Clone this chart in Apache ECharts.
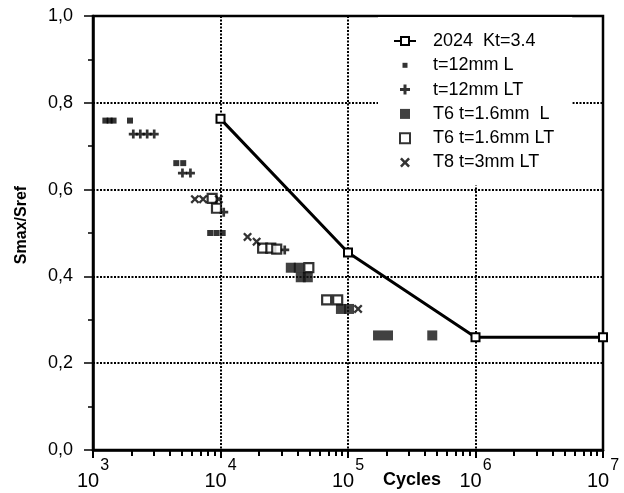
<!DOCTYPE html>
<html>
<head>
<meta charset="utf-8">
<script src="https://cdn.jsdelivr.net/npm/echarts@6/dist/echarts.min.js"></script>
<style>html,body{margin:0;background:#fff}#chart{width:624px;height:493px}</style>
</head>
<body>
<div id="chart"></div>
<script>
// S-N data (cycles, Smax/Sref)
var kt34N = [1e4, 1e5, 1e6, 1e7];
var kt34S = [0.763, 0.455, 0.26, 0.26];

var t12LN = [1250, 1350, 1450, 1950, 4500, 5100, 8300, 9300, 10400];
var t12LS = [0.759, 0.759, 0.759, 0.759, 0.661, 0.661, 0.50, 0.50, 0.50];

var t12LTN = [2070, 2350, 2660, 3020, 5030, 5810, 10600, 31900];
var t12LTS = [0.728, 0.728, 0.728, 0.728, 0.638, 0.638, 0.548, 0.461];

var t6LN = [35600, 41100, 42600, 48400, 88000, 102000, 172000, 206000, 458000];
var t6LS = [0.42, 0.42, 0.398, 0.398, 0.325, 0.325, 0.264, 0.264, 0.264];

var t6LTN = [8600, 9300, 21400, 24800, 27600, 49300, 68000, 83000];
var t6LTS = [0.58, 0.557, 0.465, 0.465, 0.463, 0.42, 0.346, 0.346];

var t8LTN = [6300, 7300, 9700, 16300, 19200, 120000];
var t8LTS = [0.578, 0.578, 0.578, 0.491, 0.48, 0.325];

var names = ['2024  Kt=3.4', 't=12mm L', 't=12mm LT', 'T6 t=1.6mm  L', 'T6 t=1.6mm LT', 'T8 t=3mm LT'];
var decades = [1e3, 1e4, 1e5, 1e6, 1e7];
var minorMult = [2, 3, 4, 5, 6, 7, 8, 9];

function zip(a, b) {
    return a.map(function (v, i) { return [v, b[i]]; });
}

// minor ticks 2..9 in each decade, as exponents for the helper axis
var minorTicks = [];
decades.slice(0, -1).forEach(function (d) {
    minorMult.forEach(function (m) { minorTicks.push(Math.log10(d * m)); });
});

var SQ = 'path://M0,0h10v10h-10z';
var PLUS = 'path://M3.5,0h3v3.5h3.5v3h-3.5v3.5h-3v-3.5h-3.5v-3h3.5z';
var CROSS = 'path://M0,1.8L1.8,0L5,3.2L8.2,0L10,1.8L6.8,5L10,8.2L8.2,10L5,6.8L1.8,10L0,8.2L3.2,5Z';
var SQ_SMALL = 'path://M0,0M10,10M2.5,2.5h5v5h-5z';

var font = 'Liberation Sans, Arial, Helvetica, sans-serif';
var dotted = {color: '#000', width: 2, type: [2, 1.5]};

var option = {
    animation: false,
    backgroundColor: '#fff',
    grid: {
        left: 93, right: 21, top: 16, bottom: 43,
        outerBoundsMode: 'none',
        show: true, borderColor: '#000', borderWidth: 2.5
    },
    legend: {
        orient: 'vertical',
        left: 378,
        top: 17,
        backgroundColor: '#fff',
        padding: [15, 18, 14, 15],
        itemWidth: 22,
        itemHeight: 10,
        itemGap: 6.3,
        textStyle: {fontFamily: font, fontSize: 18, lineHeight: 18, color: '#000', padding: [0, 0, 0, 12]},
        data: [
            {name: names[0]},
            {name: names[1], icon: SQ_SMALL},
            {name: names[2], icon: PLUS},
            {name: names[3], icon: SQ},
            {name: names[4], icon: SQ},
            {name: names[5], icon: CROSS}
        ]
    },
    xAxis: [{
        type: 'log', logBase: 10, min: 1000, max: 1e7,
        axisLine: {lineStyle: {color: '#000', width: 2.5}},
        axisTick: {length: 8, lineStyle: {color: '#000', width: 2}},
        minorTick: {show: false},
        axisLabel: {
            margin: 8,
            formatter: function (v) {
                var e = Math.round(Math.log(v) / Math.LN10);
                return '{b|10}{s|' + e + '}';
            },
            rich: {
                b: {fontFamily: font, fontSize: 20, lineHeight: 46, color: '#000'},
                s: {fontFamily: font, fontSize: 16, lineHeight: 14, color: '#000', verticalAlign: 'top', padding: [0, 0, 0, 1]}
            }
        },
        splitLine: {show: true, lineStyle: dotted},
        name: 'Cycles',
        nameLocation: 'middle',
        nameGap: 21,
        nameMoveOverlap: false,
        nameTextStyle: {fontFamily: font, fontSize: 18, fontWeight: 'bold', color: '#000', padding: [0, 0, 0, 128]}
    }, {
        // helper axis carrying only the minor decade ticks
        type: 'value', min: 3, max: 7,
        position: 'bottom',
        axisLine: {show: true, lineStyle: {color: '#000', opacity: 0}},
        axisTick: {show: true, inside: false, length: 6, customValues: minorTicks, lineStyle: {color: '#000', width: 2, opacity: 1}},
        axisLabel: {show: false},
        splitLine: {show: false}
    }],
    yAxis: {
        type: 'value', min: 0, max: 1, interval: 0.2,
        axisLine: {show: true, lineStyle: {color: '#000', width: 2.5}},
        axisTick: {show: true, length: 9, lineStyle: {color: '#000', width: 1.5}},
        minorTick: {show: true, splitNumber: 2, length: 5, lineStyle: {color: '#000', width: 1.5}},
        axisLabel: {
            margin: 20, fontFamily: font, fontSize: 18, color: '#000',
            formatter: function (v) { return v.toFixed(1).replace('.', ','); }
        },
        splitLine: {show: true, lineStyle: dotted},
        name: 'Smax/Sref',
        nameLocation: 'middle',
        nameGap: 63,
        nameTextStyle: {fontFamily: font, fontSize: 16, fontWeight: 'bold', color: '#000', padding: [0, 0, 0, 16]}
    },
    series: [
        {
            name: names[1], type: 'scatter', symbol: SQ, symbolSize: 6,
            itemStyle: {color: '#000'}, data: zip(t12LN, t12LS)
        },
        {
            name: names[2], type: 'scatter', symbol: PLUS, symbolSize: 9,
            itemStyle: {color: '#000'}, data: zip(t12LTN, t12LTS)
        },
        {
            name: names[3], type: 'scatter', symbol: SQ, symbolSize: 10,
            itemStyle: {color: '#111'}, data: zip(t6LN, t6LS)
        },
        {
            name: names[4], type: 'scatter', symbol: SQ, symbolSize: 9,
            itemStyle: {color: '#fff', borderColor: '#000', borderWidth: 2.2}, data: zip(t6LTN, t6LTS)
        },
        {
            name: names[5], type: 'scatter', symbol: CROSS, symbolSize: 9,
            itemStyle: {color: '#000'}, data: zip(t8LTN, t8LTS)
        },
        {
            name: names[0], type: 'line', symbol: 'rect', symbolSize: 8,
            lineStyle: {color: '#000', width: 3},
            itemStyle: {color: '#fff', borderColor: '#000', borderWidth: 2},
            data: zip(kt34N, kt34S)
        }
    ]
};

echarts.init(document.getElementById('chart')).setOption(option);
</script>
</body>
</html>
